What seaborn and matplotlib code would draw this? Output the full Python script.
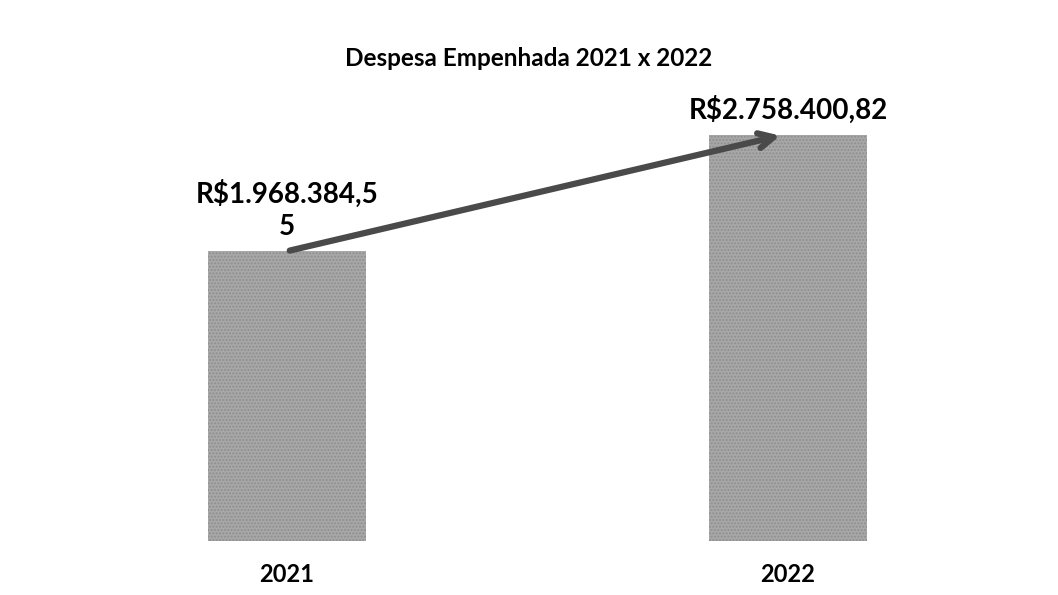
## Despesa Empenhada 2021 x 2022
import numpy as np
import pandas as pd
import seaborn as sns
import matplotlib.pyplot as plt

# data
anos = ['2021', '2022']
valores = [1968384.55, 2758400.82]
rotulos = ['R$1.968.384,5\n5', 'R$2.758.400,82']
titulo = 'Despesa Empenhada 2021 x 2022'

df = pd.DataFrame({'ano': anos, 'valor': valores})

sns.set_theme(style='white')
plt.rcParams['font.family'] = ['Lato', 'DejaVu Sans']
plt.rcParams['text.color'] = 'black'
plt.rcParams['xtick.color'] = 'black'

fig = plt.figure(figsize=(10.58, 5.95), dpi=100)
ax = fig.add_axes([0, 0.091, 1, 0.909])

sns.barplot(data=df, x='ano', y='valor', color='#a8a8a8', width=0.315,
            saturation=1, ax=ax)
for p in ax.patches:
    p.set_hatch('.....')
    p.set_edgecolor('#8e8e8e')
    p.set_linewidth(0)

ax.set_xlim(-0.573, 1.539)
ax.set_ylim(0, valores[1] * 541 / 406)
sns.despine(left=True, bottom=True)
ax.set_yticks([])
ax.set_xlabel('')
ax.set_ylabel('')
ax.tick_params(axis='x', length=0, pad=16, labelsize=17)
for t in ax.get_xticklabels():
    t.set_fontweight('bold')

# value labels
for i, (v, r) in enumerate(zip(valores, rotulos)):
    ax.annotate(r, (i, v), xytext=(0, 8), textcoords='offset points',
                ha='center', va='bottom', fontsize=20, fontweight='bold',
                linespacing=1.3)

# arrow between bar tops
ax.annotate('', xy=(0.99, valores[1]), xytext=(0, valores[0]),
            arrowprops=dict(arrowstyle='->,head_length=0.9,head_width=0.45',
                            color='#4a4a4a', lw=4.5))

fig.text(0.5, 0.902, titulo, ha='center', va='center', fontsize=17.5,
         fontweight='bold')

fig.savefig('out.png', dpi=100, facecolor='white')
